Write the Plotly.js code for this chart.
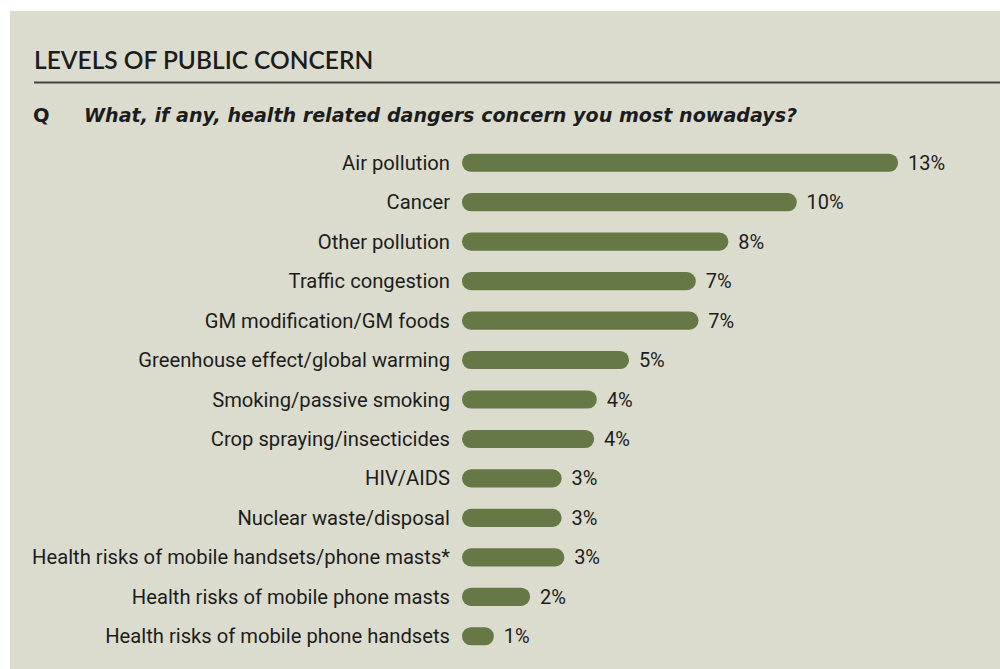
<!DOCTYPE html>
<html>
<head>
<meta charset="utf-8">
<script src="https://cdn.plot.ly/plotly-3.0.1.min.js"></script>
<style>
  html, body { margin: 0; padding: 0; background: #ffffff; width: 1000px; height: 669px; overflow: hidden; }
  #chart { position: absolute; left: 10px; top: 11px; width: 990px; height: 658px; }
</style>
</head>
<body>
<div id="chart"></div>
<script>
// Data
const categories = [
  "Air pollution",
  "Cancer",
  "Other pollution",
  "Traffic congestion",
  "GM modification/GM foods",
  "Greenhouse effect/global warming",
  "Smoking/passive smoking",
  "Crop spraying/insecticides",
  "HIV/AIDS",
  "Nuclear waste/disposal",
  "Health risks of mobile handsets/phone masts*",
  "Health risks of mobile phone masts",
  "Health risks of mobile phone handsets"
];
const values = [13.0, 9.98, 7.94, 6.97, 7.05, 4.98, 4.02, 3.94, 2.97, 2.97, 3.05, 2.03, 0.95];
const valueLabels = ["13%", "10%", "8%", "7%", "7%", "5%", "4%", "4%", "3%", "3%", "3%", "2%", "1%"];

const titleText = "LEVELS OF PUBLIC CONCERN";
const questionMark = "Q";
const questionText = "What, if any, health related dangers concern you most nowadays?";

const TITLE_FONT = "Lato, 'Open Sans', sans-serif";
const Q_FONT = "'DejaVu Sans', sans-serif";
const LABEL_FONT = "Roboto, 'Liberation Sans', sans-serif";
const BG = "#dcdcce";
const BAR = "#657845";
const INK = "#1c1c1c";

// a bar with an explicit base gets both ends rounded by cornerradius
const bars = {
  type: "bar",
  orientation: "h",
  y: categories,
  x: values,
  base: 0,
  text: valueLabels,
  texttemplate: "\u2004%{text}",
  textposition: "outside",
  constraintext: "none",
  cliponaxis: false,
  textfont: { family: LABEL_FONT, size: 20, color: INK },
  marker: { color: BAR, cornerradius: "50%", line: { width: 0 } },
  width: 0.46,
  hoverinfo: "skip"
};

const layout = {
  width: 990,
  height: 658,
  paper_bgcolor: BG,
  plot_bgcolor: BG,
  margin: { l: 452, r: 18, t: 132, b: 13, pad: 0 },
  showlegend: false,
  title: {
    text: titleText,
    font: { family: TITLE_FONT, size: 24.5, color: INK, weight: 600 },
    xref: "container", yref: "container",
    x: 24 / 990, xanchor: "left",
    y: 1 - 49 / 658, yanchor: "middle"
  },
  xaxis: {
    range: [0, 15.5],
    showgrid: false, zeroline: false, showline: false,
    showticklabels: false, ticks: "", fixedrange: true
  },
  yaxis: {
    type: "category",
    autorange: "reversed",
    showgrid: false, zeroline: false, showline: false,
    ticks: "", ticklabelstandoff: 11,
    tickfont: { family: LABEL_FONT, size: 20.2, color: INK },
    fixedrange: true
  },
  shapes: [
    {
      type: "line", xref: "paper", yref: "paper",
      x0: (24 - 452) / 520, x1: (990 - 452) / 520,
      y0: 1 - (71.5 - 132) / 513, y1: 1 - (71.5 - 132) / 513,
      line: { color: "#444444", width: 2 }
    }
  ],
  annotations: [
    {
      text: "<b>" + questionMark + "</b>",
      xref: "paper", yref: "paper",
      x: (21 - 452) / 520, xanchor: "left",
      y: 1 - (104 - 132) / 513, yanchor: "middle",
      showarrow: false,
      font: { family: Q_FONT, size: 19.5, color: INK }
    },
    {
      text: "<b><i>" + questionText + "</i></b>",
      xref: "paper", yref: "paper",
      x: (72 - 452) / 520, xanchor: "left",
      y: 1 - (104 - 132) / 513, yanchor: "middle",
      showarrow: false,
      font: { family: Q_FONT, size: 19.1, color: INK }
    }
  ]
};

Plotly.newPlot("chart", [bars], layout, { staticPlot: true, displayModeBar: false });
</script>
</body>
</html>
